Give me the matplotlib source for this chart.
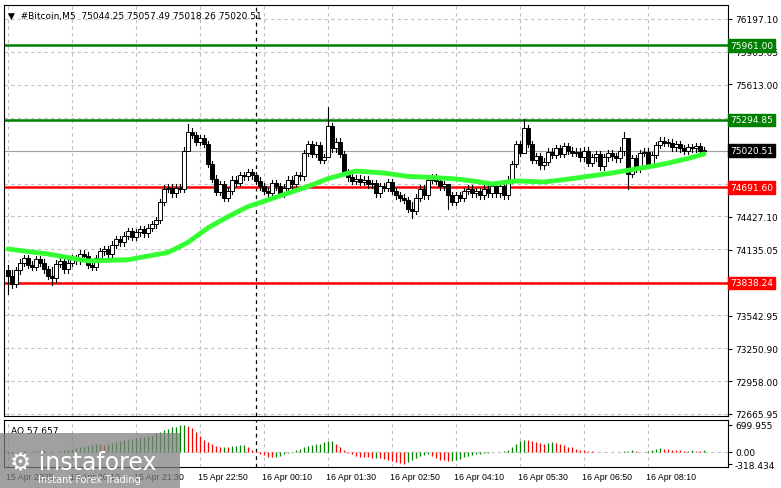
import numpy as np
import matplotlib.pyplot as plt
from matplotlib.patches import Rectangle

# --- data ---
closes = [
    73900, 73830, 73950, 74020, 74060, 74000, 73980, 74050, 74020, 73960,
    73900, 73880, 74010, 74030, 73960, 74020, 74060, 74040, 74100, 74080,
    74000, 73980, 74060, 74120, 74140, 74100, 74180, 74230, 74200, 74260,
    74300, 74250, 74290, 74320, 74280, 74330, 74360, 74400, 74560, 74680,
    74690, 74640, 74690, 74680, 75020, 75190, 75160, 75100, 75130, 75080,
    74900, 74770, 74650, 74720, 74600, 74660, 74760, 74730, 74800, 74790,
    74830, 74800, 74750, 74700, 74660, 74640, 74730, 74700, 74640, 74690,
    74760, 74720, 74800, 74790, 75000, 75080, 74990, 75070, 74940, 74960,
    75240, 75040, 75100, 74990, 74830, 74780, 74750, 74770, 74740, 74760,
    74720, 74730, 74640, 74700, 74690, 74740, 74660, 74620, 74600, 74580,
    74500, 74480, 74600, 74680, 74620, 74760, 74780, 74750, 74700, 74720,
    74620, 74560, 74620, 74600, 74660, 74680, 74640, 74660, 74620, 74680,
    74640, 74700, 74640, 74700, 74620, 74760, 74900, 75080, 75000, 75220,
    75080, 74940, 74970, 74890, 74920, 75010, 74980, 75040, 74990, 75060,
    75020, 75000, 75010, 74960, 75020, 74910, 74960, 74990, 74880, 74960,
    75000, 74970, 74950, 75020, 75130, 74810, 74950, 74860, 75000, 75010,
    74900, 74980, 75070, 75110, 75090, 75090, 75050, 75080, 75040, 75020,
    75050, 75040, 75060, 75020, 75020.51,
]
first_open = 73950
# candles with long wicks: index -> (high, low)
spikes = {0: (74000, 73740), 1: (73950, 73790), 11: (73980, 73820), 45: (75258, 75100),
          80: (75410, 74960), 101: (74560, 74420), 110: (74720, 74500),
          129: (75300, 75000), 154: (75190, 74980), 155: (75130, 74680)}

ma_idx = [0, 10, 20, 30, 40, 45, 50, 55, 60, 65, 70, 75, 80, 87, 94, 100, 106, 112, 117, 121,
          127, 134, 140, 144, 150, 154, 160, 164, 170, 174]
ma_val = [74141, 74096, 74034, 74045, 74110, 74200, 74330, 74430, 74520, 74580, 74640, 74700,
          74770, 74838, 74820, 74790, 74780, 74767, 74745, 74722, 74749, 74740, 74765, 74785,
          74815, 74838, 74875, 74901, 74950, 74990]

ao = [
    -40, -60, -20, 20, 30, 10, -10, 20, 30, 40,
    10, -20, 0, 20, 40, 60, 80, 100, 120, 140,
    160, 180, 200, 200, 190, 220, 240, 260, 280, 300,
    320, 340, 360, 380, 400, 420, 450, 480, 520, 560,
    600, 640, 660, 690, 700, 680, 620, 520, 420, 320,
    260, 200, 160, 140, 140, 130, 150, 160, 170, 180,
    130, 60, 20, -40, -90, -120, -130, -120, -100, -60,
    -30, 10, 50, 90, 120, 150, 180, 200, 220, 250,
    280, 290, 220, 120, 40, -20, -60, -100, -120, -130,
    -140, -150, -150, -160, -180, -200, -240, -260, -280, -318,
    -260, -200, -150, -100, -80, -60, -100, -160, -200, -220,
    -240, -230, -200, -170, -140, -110, -80, -60, -40, -30,
    -20, -10, 0, 10, 20, 60, 120, 200, 280, 320,
    310, 290, 260, 240, 220, 240, 250, 230, 200, 170,
    140, 120, 80, 60, 40, 30, 20, 10, 5, 0,
    -10, -5, 5, 10, 20, 30, 40, 20, 10, 5,
    30, 60, 80, 100, 90, 70, 60, 50, 40, 30,
    30, 40, 30, 20, 57.657,
]

time_labels = ["15 Apr 2025", "15 Apr 20:10", "15 Apr 21:30", "15 Apr 22:50", "16 Apr 00:10",
               "16 Apr 01:30", "16 Apr 02:50", "16 Apr 04:10", "16 Apr 05:30",
               "16 Apr 06:50", "16 Apr 08:10"]
price_ticks = [76197.10, 75905.05, 75613.00, 74427.10, 74135.05, 73542.95, 73250.90, 72958.00, 72665.95]
levels = [(75961.00, '#007f00'), (75294.85, '#007f00'), (74691.60, '#ff0000'), (73838.24, '#ff0000')]
last_price = 75020.51

plt.rcParams['font.family'] = 'DejaVu Sans'
FS = 6.5
fig = plt.figure(figsize=(7.81, 4.89), dpi=100)
W, H = 781, 489
ax = fig.add_axes([4 / W, 1 - 417 / H, 724 / W, 411 / H])
ax2 = fig.add_axes([4 / W, 1 - 468 / H, 724 / W, 47 / H])

n = len(closes)
opens = [first_open] + closes[:-1]
grid_x = [16 * k for k in range(len(time_labels))]
grid_y_all = np.linspace(72665.95, 76197.10, 13)

for a in (ax, ax2):
    a.set_xlim(-1, 180)
    for gx in grid_x:
        a.axvline(gx, color='#c0c0c0', ls=(0, (3, 3)), lw=0.8, zorder=0)
    a.axvline(62, color='black', ls=(0, (3, 3)), lw=0.9, zorder=1)
    a.set_xticks([])
    a.yaxis.tick_right()
    a.tick_params(axis='y', labelsize=FS, length=3, pad=2)
    for s in a.spines.values():
        s.set_color('black')

for gy in grid_y_all:
    ax.axhline(gy, color='#c0c0c0', ls=(0, (3, 3)), lw=0.8, zorder=0)

# candles
for i in range(n):
    o, c = opens[i], closes[i]
    hi, lo = spikes.get(i, (max(o, c) + 30, min(o, c) - 30))
    ax.plot([i, i], [lo, hi], color='black', lw=0.8, zorder=3)
    body = max(abs(c - o), 8)
    ax.add_patch(Rectangle((i - 0.38, min(o, c)), 0.76, body, facecolor='white' if c >= o else 'black',
                           edgecolor='black', lw=0.7, zorder=4))

ax.plot(ma_idx, ma_val, color='#33ff33', lw=3.5, zorder=5, solid_capstyle='round')
ax.axhline(last_price, color='#a0a0a0', lw=0.8, zorder=1)
for val, col in levels:
    ax.axhline(val, color=col, lw=1.8, zorder=2)

ax.set_ylim(72648, 76322)
ax.set_yticks(price_ticks)
ax.set_yticklabels([f"{v:.2f}" for v in price_ticks])
for val, col in levels + [(last_price, 'black')]:
    ax.text(1.003, val, f"{val:.2f}", transform=ax.get_yaxis_transform(), fontsize=FS,
            color='white', va='center', ha='left', zorder=10,
            bbox=dict(boxstyle='square,pad=0.2', fc=col, ec=col), clip_on=False)
ax.text(0.005, 0.985, "\u25bc  #Bitcoin,M5  75044.25 75057.49 75018.26 75020.51",
        transform=ax.transAxes, fontsize=FS, va='top', ha='left')

# AO histogram
ao_colors = ['#008000'] + ['#008000' if ao[i] >= ao[i - 1] else '#ff0000' for i in range(1, n)]
ax2.vlines(range(n), 0, ao, colors=ao_colors, lw=0.9)
ax2.axhline(0, color='#c0c0c0', ls=(0, (3, 3)), lw=0.8, zorder=0)
ax2.set_ylim(-389, 829)
ax2.set_yticks([699.955, 0, -318.434])
ax2.set_yticklabels(["699.955", "0.00", "-318.434"])
ax2.text(0.01, 0.88, "AO 57.657", transform=ax2.transAxes, fontsize=FS, va='top')

for gx, lab in zip(grid_x, time_labels):
    fig.text((4 + 4 * gx + 2) / W, 1 - 478 / H, lab, fontsize=6.3, ha='left', va='center',
             family='Liberation Sans')

# watermark
fig.patches.append(Rectangle((0, 0), 180 / W, 55 / H, transform=fig.transFigure,
                             facecolor='#808080', alpha=0.75, zorder=20))
fig.text(10 / W, 1 - 462 / H, "\u2699 instaforex", fontsize=17, color='white', zorder=21, va='center')
fig.text(38 / W, 1 - 480 / H, "Instant Forex Trading", fontsize=7, color='white', zorder=21, va='center')

fig.savefig('out.png', dpi=100)
